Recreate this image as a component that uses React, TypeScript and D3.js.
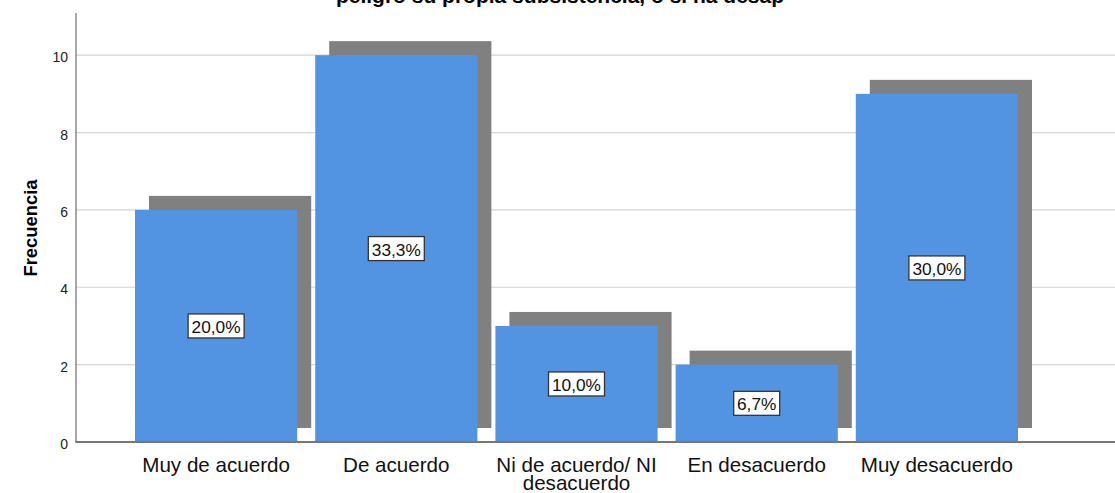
import React from "react";
import * as d3 from "d3";

const categories = ["Muy de acuerdo", "De acuerdo", "Ni de acuerdo/ NI desacuerdo", "En desacuerdo", "Muy desacuerdo"];
const labelLines = [["Muy de acuerdo"], ["De acuerdo"], ["Ni de acuerdo/ NI", "desacuerdo"], ["En desacuerdo"], ["Muy desacuerdo"]];
const frequencies = [6, 10, 3, 2, 9];
const percentLabels = ["20,0%", "33,3%", "10,0%", "6,7%", "30,0%"];
const yTicks = [0, 2, 4, 6, 8, 10];
const titleText = "peligro su propia subsistencia, o si ha desap";
const yTitle = "Frecuencia";

const W = 1115;
const H = 493;
const FONT = "'Liberation Sans', Arial, sans-serif";

export default function App() {
  const axisX = 76;
  const y = d3.scaleLinear().domain([0, 11.09]).range([442, 13]);
  const x = d3.scaleBand<string>().domain(categories).range([126, 1027]).paddingInner(0.1).paddingOuter(0.05);
  const bw = x.bandwidth();
  const off = 14;

  return (
    <svg width={W} height={H} style={{ position: "absolute", left: 0, top: 0, background: "#fff" }} fontFamily={FONT}>
      <rect x={0} y={0} width={W} height={H} fill="#fff" />
      <text x={560} y={3} textAnchor="middle" fontSize={21} fontWeight="bold" fill="#000">{titleText}</text>
      {yTicks.filter(t => t > 0).map(t => (
        <line key={"g" + t} x1={axisX} x2={W} y1={y(t)} y2={y(t)} stroke="#d4d4d4" strokeWidth={1.2} />
      ))}
      {yTicks.map(t => (
        <text key={"t" + t} x={68} y={y(t) + 2} textAnchor="end" dominantBaseline="central" fontSize={14} fill="#222">{t}</text>
      ))}
      <text transform={`translate(30,228) rotate(-90)`} textAnchor="middle" dominantBaseline="central" fontSize={18.4} fontWeight="bold" fill="#000">{yTitle}</text>
      {categories.map((c, i) => (
        <rect key={"s" + c} x={(x(c) as number) + off} y={y(frequencies[i]) - off} width={bw} height={y(0) - y(frequencies[i])} fill="#808080" />
      ))}
      {categories.map((c, i) => (
        <rect key={"b" + c} x={x(c) as number} y={y(frequencies[i])} width={bw} height={y(0) - y(frequencies[i])} fill="#5294e2" />
      ))}
      <line x1={axisX} x2={axisX} y1={13} y2={442} stroke="#8a8a8a" strokeWidth={1.5} />
      <line x1={axisX - 0.75} x2={W} y1={442} y2={442} stroke="#777" strokeWidth={2} />
      {categories.map((c, i) => {
        const cx = (x(c) as number) + bw / 2;
        const cy = (y(frequencies[i]) + y(0)) / 2;
        const bwid = percentLabels[i].length === 4 ? 46 : 56;
        return (
          <g key={"l" + c}>
            <rect x={cx - bwid / 2} y={cy - 12} width={bwid} height={24} fill="#fff" stroke="#333" strokeWidth={1.3} />
            <text x={cx} y={cy + 1} textAnchor="middle" dominantBaseline="central" fontSize={17.3} fill="#111">{percentLabels[i]}</text>
          </g>
        );
      })}
      {categories.map((c, i) => {
        const cx = (x(c) as number) + bw / 2;
        return (
          <text key={"x" + c} x={cx} y={471.5} textAnchor="middle" fontSize={20.6} fill="#111">
            {labelLines[i].map((ln, j) => (
              <tspan key={j} x={cx} dy={j === 0 ? 0 : 18.5}>{ln}</tspan>
            ))}
          </text>
        );
      })}
    </svg>
  );
}
